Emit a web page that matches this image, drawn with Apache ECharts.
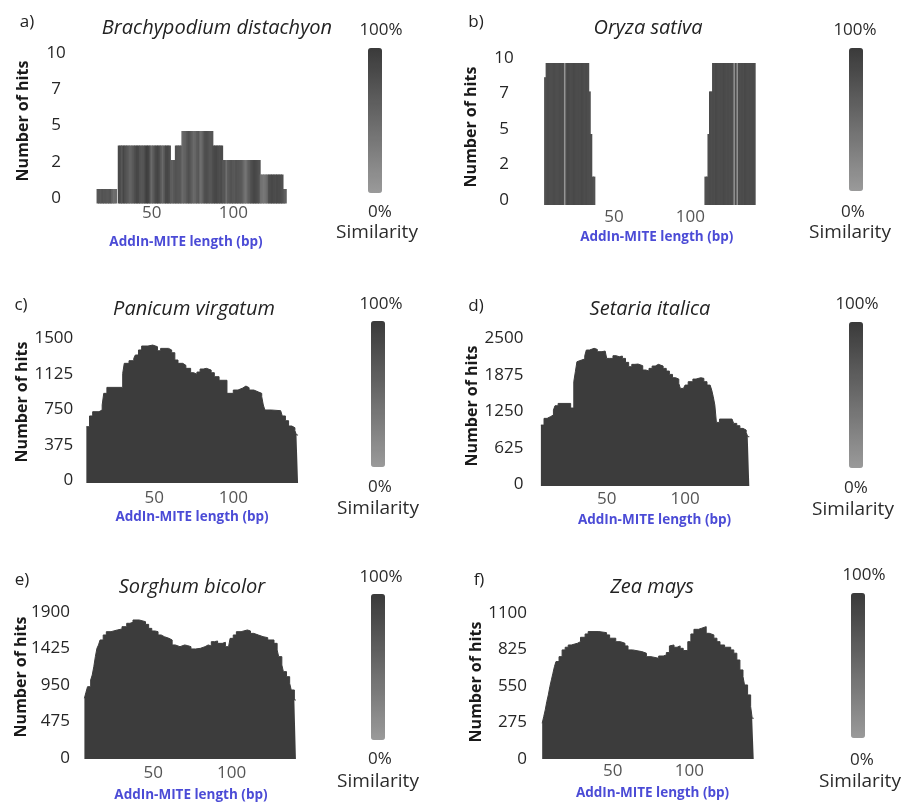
<!DOCTYPE html>
<html>
<head>
<meta charset="utf-8">
<title>AddIn-MITE length distribution</title>
<script src="https://cdn.jsdelivr.net/npm/echarts@6/dist/echarts.min.js"></script>
<style>
  html, body { margin: 0; padding: 0; background: #fff; }
  #chart { width: 906px; height: 803px; }
</style>
</head>
<body>
<div id="chart"></div>
<script>
// ---- data ----
// a) Brachypodium distachyon : one bar per bp, starting at startA
var startA = 17;
var hitsA = [1,1,1,1,1,1,1,1,1,1,1,1,
  0,
  4,4,4,4,4,4,4,4,4,4,4,4,4,4,4,4,4,4,4,4,4,4,4,4,4,4,4,4,4,4,4,4,
  3,3,3,
  4,4,4,4,
  5,5,5,5,5,5,5,5,5,5,5,5,5,5,5,5,5,5,5,
  4,4,4,4,4,4,
  3,3,3,3,3,3,3,3,3,3,3,3,3,3,3,3,3,3,3,3,3,3,3,
  2,2,2,2,2,2,2,2,2,2,2,2,2,2,
  1,1];
var simA = [70,72,68,75,70,72,68,70,74,55,45,50,
  60,
  85,80,70,88,75,72,65,55,60,70,78,88,85,75,70,72,80,95,92,78,50,60,75,85,90,80,65,50,70,85,88,80,
  65,60,70,
  75,72,70,68,
  50,55,60,72,78,70,60,50,55,65,70,45,50,68,78,80,75,70,72,
  82,85,88,80,78,82,
  70,72,45,65,70,75,70,68,75,72,70,68,60,45,40,55,65,75,82,88,85,80,75,
  45,40,35,42,50,78,82,85,82,80,84,82,80,78,
  70,60];

// b) Oryza sativa : two runs of bars
var startB1 = 5;
var hitsB1 = [9,10,10,10,10,10,10,10,10,10,10,10,10,10,10,10,10,10,10,10,10,10,10,10,10,10,10,10,10,8,5,2,2];
var simB1 = [75,80,82,80,78,80,82,80,78,80,82,80,82,5,80,85,82,80,82,85,82,80,82,80,85,82,80,82,80,78,80,78,75];
var startB2 = 110;
var hitsB2 = [2,2,5,8,8,10,10,10,10,10,10,10,10,10,10,10,10,10,10,10,10,10,10,10,10,10,10,10,10,10,10,10,10];
var simB2 = [75,78,80,82,80,82,80,85,82,80,82,80,85,82,80,82,80,82,80,10,80,10,82,80,82,80,85,82,80,82,80,82,80];

// c) Panicum virgatum
var lenC = [7,9,11,15,17,18,20,30,31,34,37,38,40,42,46,49,52,54,59,61,63,65,68,70,73,75,77,79,81,83,86,88,91,96,100,103,106,108,110,113,116,118,119,120,124,130,131,133,135,137,139,140,141];
var hitsC = [595,708,753,771,824,947,1010,1158,1264,1292,1316,1352,1405,1447,1457,1440,1397,1422,1405,1376,1299,1264,1243,1211,1165,1148,1172,1204,1211,1193,1165,1123,1085,947,982,1003,1024,1007,982,961,947,912,824,771,764,753,708,658,602,584,553,507,507];

// d) Setaria italica
var lenD = [8,10,12,14,16,17,19,27,29,30,31,32,34,36,37,39,42,44,47,49,50,52,53,54,56,58,60,62,64,66,68,70,73,75,77,79,81,83,86,88,90,92,94,96,97,99,100,102,105,107,110,112,114,116,117,118,119,120,122,130,131,133,135,137,139,140,141];
var hitsD = [1043,1158,1186,1215,1300,1374,1414,1335,1786,1957,2128,2157,2174,2231,2328,2357,2339,2300,2311,2300,2185,2174,2185,2231,2214,2225,2185,2117,2043,2083,2088,2060,1986,1968,2014,2054,2083,2054,2014,1968,1911,1854,1831,1757,1671,1683,1728,1786,1831,1854,1843,1786,1728,1700,1643,1529,1386,1089,1146,1129,1072,1032,986,958,918,844,844];

// e) Sorghum bicolor
var lenE = [6,7,8,10,11,12,13,14,15,16,18,20,23,27,30,33,35,37,41,45,47,49,51,53,55,57,60,62,64,67,70,72,74,77,80,83,85,87,89,91,94,96,98,99,101,103,106,110,112,114,117,120,123,127,129,130,132,133,135,137,138,140,141];
var hitsE = [790,868,941,1028,1093,1202,1332,1440,1484,1549,1614,1657,1679,1692,1722,1766,1778,1809,1787,1752,1700,1666,1657,1614,1592,1570,1549,1484,1462,1484,1475,1462,1432,1440,1462,1484,1471,1527,1536,1505,1518,1462,1475,1570,1614,1657,1679,1666,1635,1614,1592,1579,1549,1505,1419,1332,1223,1137,1071,985,898,768,768];

// f) Zea mays
var lenF = [4,5,6,7,8,9,10,11,12,13,15,17,19,21,23,27,29,32,34,41,46,48,52,55,58,60,63,69,72,75,80,83,85,87,88,90,92,94,96,99,101,103,106,108,111,113,116,118,120,123,127,129,131,133,135,136,138,140,141,142];
var hitsF = [269,319,370,432,483,545,596,646,696,734,771,822,842,859,872,884,917,942,960,952,935,910,884,872,852,822,809,797,771,759,776,784,802,852,859,842,852,834,817,884,942,977,985,997,947,935,910,884,859,842,822,797,746,671,621,558,483,395,307,307];

var titles = ['Brachypodium distachyon', 'Oryza sativa', 'Panicum virgatum', 'Setaria italica', 'Sorghum bicolor', 'Zea mays'];
var tags = ['a)', 'b)', 'c)', 'd)', 'e)', 'f)'];
var yMaxes = [10, 10, 1500, 2500, 1900, 1100];

// ---- layout ----
var FONT = '"Open Sans", "DejaVu Sans", sans-serif';
var FILL = '#3c3c3c';
var BLUE = '#4b4bd6';
var TXT = '#2b2b2b';

// yLift: how far the tick labels sit above their tick in the original
var panels = [
  {grid: {left: 70.1, top: 58.5, width: 231.7, height: 145}, xMax: 142, yAlign: 'center', yMargin: 14, yLift: 5.5, xMargin: 1, xGap: 31.5,
   tag: [27, 22], title: [217, 28], yName: [23, 121], bar: [368, 48, 145], pTop: [381, 30], pBot: [380, 212], sim: [377, 233]},
  {grid: {left: 537.65, top: 63, width: 238.2, height: 142}, xMax: 156, yAlign: 'center', yMargin: 33.6, yLift: 5, xMargin: 3.5, xGap: 25,
   tag: [476, 22], title: [648, 28], yName: [471, 127], bar: [849, 48, 143], pTop: [855, 30], pBot: [853, 212], sim: [850, 233]},
  {grid: {left: 75.3, top: 341, width: 233.5, height: 142}, xMax: 147.8, yAlign: 'right', yMargin: 2, yLift: 2.5, xMargin: 6.5, xGap: 27,
   tag: [21, 305], title: [194, 309], yName: [22, 402], bar: [371, 321, 146], pTop: [381, 304], pBot: [380, 487], sim: [378, 509]},
  {grid: {left: 528.35, top: 340, width: 252.3, height: 146}, xMax: 161, yAlign: 'right', yMargin: 5, yLift: 1.5, xMargin: 4.5, xGap: 27,
   tag: [476, 306], title: [650, 309], yName: [472, 406], bar: [849, 322, 146], pTop: [857, 304], pBot: [856, 488], sim: [853, 510]},
  {grid: {left: 75, top: 613, width: 231.9, height: 146}, xMax: 148, yAlign: 'right', yMargin: 5, yLift: 1, xMargin: 5.5, xGap: 29,
   tag: [22, 580], title: [192, 587], yName: [21, 677], bar: [371, 594, 146], pTop: [381, 577], pBot: [380, 759], sim: [378, 782]},
  {grid: {left: 536.05, top: 613, width: 233, height: 146}, xMax: 152, yAlign: 'right', yMargin: 9, yLift: 0, xMargin: 3.5, xGap: 27,
   tag: [479, 580], title: [652, 587], yName: [476, 682], bar: [851, 593, 145], pTop: [864, 575], pBot: [862, 760], sim: [860, 782]}
];

// ---- build series data ----
var dataA = hitsA.map(function (h, i) { return [startA + i, h, simA[i]]; });
var dataB = hitsB1.map(function (h, i) { return [startB1 + i, h, simB1[i]]; })
  .concat(hitsB2.map(function (h, i) { return [startB2 + i, h, simB2[i]]; }));
function pairs(xs, ys) { return xs.map(function (x, i) { return [x, ys[i]]; }); }
var areaData = [pairs(lenC, hitsC), pairs(lenD, hitsD), pairs(lenE, hitsE), pairs(lenF, hitsF)];

var grids = [], xAxes = [], yAxes = [], series = [], visualMaps = [], graphics = [];

function txt(text, pos, size, opts) {
  opts = opts || {};
  return {
    type: 'text', x: pos[0], y: pos[1], rotation: opts.rotation || 0, silent: true,
    style: {
      text: text, fill: opts.color || TXT, align: 'center', verticalAlign: 'middle',
      font: (opts.style || 'normal') + ' ' + (opts.weight || 'normal') + ' ' + size + 'px ' + FONT
    }
  };
}

panels.forEach(function (p, k) {
  grids.push(Object.assign({outerBoundsMode: 'none', containLabel: false}, p.grid));
  xAxes.push({
    type: 'value', gridIndex: k, min: 0, max: p.xMax, interval: 50,
    axisLine: {show: false}, axisTick: {show: false}, splitLine: {show: false},
    axisLabel: {
      margin: p.xMargin, color: '#555', fontFamily: FONT, fontSize: 17,
      formatter: function (v) { return (v === 50 || v === 100) ? String(v) : ''; }
    },
    name: 'AddIn-MITE length (bp)', nameLocation: 'middle', nameGap: p.xGap,
    nameTextStyle: {color: BLUE, fontFamily: FONT, fontSize: 13.5, fontWeight: 'bold'}
  });
  var yLabel = {
    margin: p.yMargin, align: p.yAlign, color: '#262626', fontFamily: FONT, fontSize: 17,
    formatter: function (v) { return String(Math.floor(v)); }
  };
  if (p.yLift > 0) {
    yLabel.verticalAlign = 'bottom';
    yLabel.lineHeight = p.yLift * 2;
  }
  yAxes.push({
    type: 'value', gridIndex: k, min: 0, max: yMaxes[k], interval: yMaxes[k] / 4,
    axisLine: {show: false}, axisTick: {show: false}, splitLine: {show: false},
    axisLabel: yLabel
  });

  visualMaps.push({
    type: 'continuous', min: 0, max: 100, dimension: 2, calculable: false,
    seriesIndex: k === 0 ? [0] : (k === 1 ? [1] : []),
    orient: 'vertical', left: p.bar[0], top: p.bar[1], itemWidth: 14, itemHeight: p.bar[2],
    padding: 0, inRange: {color: ['#9a9a9a', '#3a3a3a']}
  });

  graphics.push(txt(tags[k], p.tag, 17, {color: '#222'}));
  graphics.push(txt(titles[k], p.title, 20, {style: 'italic', color: '#222'}));
  graphics.push(txt('Number of hits', p.yName, 16, {weight: 'bold', color: '#1a1a1a', rotation: Math.PI / 2}));
  graphics.push(txt('100%', p.pTop, 17));
  graphics.push(txt('0%', p.pBot, 17));
  graphics.push(txt('Similarity', p.sim, 19));
});

series.push({type: 'bar', xAxisIndex: 0, yAxisIndex: 0, barWidth: 2.6, data: dataA, silent: true});
series.push({type: 'bar', xAxisIndex: 1, yAxisIndex: 1, barWidth: 2.4, data: dataB, silent: true});
areaData.forEach(function (d, i) {
  series.push({
    type: 'line', xAxisIndex: i + 2, yAxisIndex: i + 2, step: 'end', symbol: 'none', silent: true,
    data: d, lineStyle: {color: FILL, width: 1}, areaStyle: {color: FILL, opacity: 1}, itemStyle: {color: FILL}
  });
});

var chart = echarts.init(document.getElementById('chart'));
chart.setOption({
  animation: false,
  backgroundColor: '#fff',
  grid: grids,
  xAxis: xAxes,
  yAxis: yAxes,
  visualMap: visualMaps,
  series: series,
  graphic: graphics
});
</script>
</body>
</html>
